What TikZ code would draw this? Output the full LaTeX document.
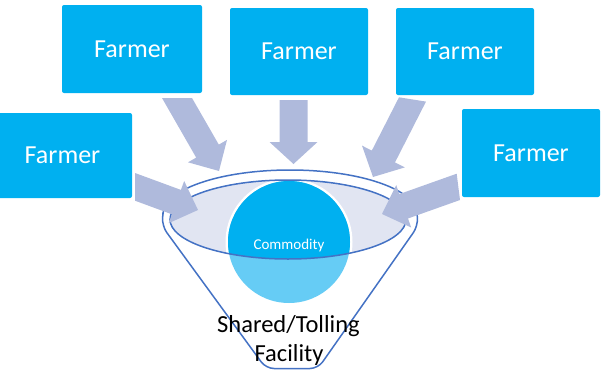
\documentclass[tikz,border=0pt]{standalone}
\usepackage{fontspec}
\setmainfont{Carlito}
\definecolor{boxblue}{HTML}{00B0F0}
\definecolor{arrowblue}{HTML}{AFBADC}
\definecolor{lav}{HTML}{E1E5F2}
\definecolor{lineblue}{HTML}{4472C4}
\definecolor{lightcirc}{HTML}{66CCF5}
\begin{document}
\begin{tikzpicture}[x=1pt,y=-1pt,
  farmer/.style={fill=boxblue, text=white, font=\fontsize{26}{30}\selectfont,
    minimum width=138pt, minimum height=87pt, inner sep=0pt, rounded corners=2pt},
  blockarrow/.style={fill=arrowblue, draw=none},
  outline/.style={draw=lineblue, line width=1.5pt, line cap=round}]
\useasboundingbox (0,0) rectangle (611,370);
\clip (0,0) rectangle (611,370);

% funnel top face and commodity
\fill[lav] (288,219.5) ellipse[x radius=118, y radius=39.5];
\fill[white] (289,242) circle[radius=63.5];
\fill[lightcirc] (289,242) circle[radius=61];
\begin{scope}
  \clip (288,219.5) ellipse[x radius=118, y radius=39.5];
  \fill[boxblue] (289,242) circle[radius=61];
\end{scope}
\draw[outline] (288,219.5) ellipse[x radius=118, y radius=39.5];

% funnel outline
\draw[outline] (163,214) arc[start angle=180, end angle=360, x radius=127, y radius=44];
\draw[outline, rounded corners=8pt] (163,213) -- (162,226) -- (266,368.5) -- (318,368.5) -- (418,226) -- (417,213);

% block arrows
\fill[blockarrow] (162,98) -- (192,98) -- (218.8,144.6) -- (227,139.9) -- (219,171) -- (188,162.3) -- (196.2,157.6) -- cycle;
\fill[blockarrow] (279.5,100) -- (307.5,100) -- (307.5,142) -- (317.5,142) -- (293.5,164) -- (269.5,142) -- (279.5,142) -- cycle;
\fill[blockarrow] (399,97.3) -- (426,101.6) -- (395,162.4) -- (404.8,167.4) -- (373,177) -- (362,145.6) -- (371.8,150.6) -- cycle;
\fill[blockarrow] (135,173) -- (180.9,189.9) -- (184.2,181) -- (198,210) -- (168.6,223.2) -- (171.9,214.3) -- (135,200.7) -- cycle;
\fill[blockarrow] (456.7,173.7) -- (460,200) -- (408,218.5) -- (411.2,227.5) -- (382,214) -- (396.2,185.1) -- (399.3,194.1) -- cycle;

% farmer boxes
\node[farmer, minimum width=140pt, minimum height=88pt] (f1) at (132,49) {Farmer};
\node[farmer] (f2) at (299,51.5) {Farmer};
\node[farmer] (f3) at (465,51.5) {Farmer};
\node[farmer, minimum width=139pt, minimum height=85pt] (f4) at (62.5,155.5) {Farmer};
\node[farmer, minimum height=88pt] (f5) at (531,153) {Farmer};

% texts
\node[font=\fontsize{15}{18}\selectfont, text=white, anchor=base, inner sep=0pt] (commodity) at (289,249) {Commodity};
\node[font=\fontsize{24.5}{29}\selectfont, anchor=base, inner sep=0pt] (fac1) at (288.5,332) {Shared/Tolling};
\node[font=\fontsize{24.5}{29}\selectfont, anchor=base, inner sep=0pt] (fac2) at (289,361.5) {Facility};
\end{tikzpicture}
\end{document}
